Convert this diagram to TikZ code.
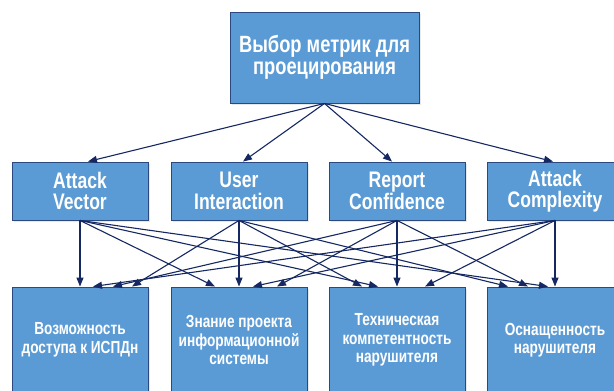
\documentclass[tikz,border=0pt]{standalone}
\usepackage{fontspec}
\newfontfamily\boxfont{Liberation Sans}[FakeStretch=0.78]
\usetikzlibrary{arrows.meta,shadows}
\definecolor{boxblue}{RGB}{91,155,213}
\definecolor{boxline}{RGB}{44,72,128}
\definecolor{arrline}{RGB}{22,40,98}

\begin{document}
\begin{tikzpicture}%
        [x=1pt,
        y=-1pt,
        box/.style={draw=boxline, line width=0.9pt, fill=boxblue, text=white,
                    align=center, inner sep=2pt,
                    drop shadow={shadow xshift=1.5pt, shadow yshift=-1.5pt, opacity=0.18}},
        topbox/.style={box, minimum width=189pt, minimum height=91pt,
                    font=\boxfont\bfseries\fontsize{23.5}{22.5}\selectfont},
        metric/.style={box, minimum width=136pt, minimum height=58pt,
                    font=\boxfont\bfseries\fontsize{22.5}{21.5}\selectfont},
        factor/.style={box, minimum width=136pt, minimum height=106pt,
                    font=\boxfont\bfseries\fontsize{17.5}{18.5}\selectfont},
        arr/.style={draw=arrline, line width=1.1pt, -{Triangle[length=9pt,width=7pt]}}]

    \clip (0,0) rectangle (614,391);
    \useasboundingbox (0,0) rectangle (614,391);

    %% Drawing the boxes
    \node[topbox] (choice) at (324.5,57.5) {Выбор метрик для\\проецирования};
    \node[metric] (av) at (80,191) {Attack\\Vector};
    \node[metric] (ui) at (239,191) {User\\Interaction};
    \node[metric] (rc) at (397,191) {Report\\Confidence};
    \node[metric] (ac) at (555,191) {Attack\\Complexity};
    \node[factor] (access) at (80,340) {Возможность\\доступа к ИСПДн};
    \node[factor] (design) at (239,340) {Знание проекта\\информационной\\системы};
    \node[factor] (skill) at (397,340) {Техническая\\компетентность\\нарушителя};
    \node[factor] (equip) at (555,340) {Оснащенность\\нарушителя};
    %%
    %% Choice to metrics
    %%
    \draw[arr] (choice.south) -- ([xshift=8pt]av.north);
    \draw[arr] (choice.south) -- ([xshift=4pt]ui.north);
    \draw[arr] (choice.south) -- ([xshift=-5pt]rc.north);
    \draw[arr] (choice.south) -- ([xshift=-2pt]ac.north);
    %%
    %% Metrics to access
    %%
    \draw[arr] (av.south) -- (access.north);
    \draw[arr] (ui.south) -- ([xshift=52pt]access.north);
    \draw[arr] (rc.south) -- ([xshift=33pt]access.north);
    \draw[arr] (ac.south) -- ([xshift=13pt]access.north);
    %%
    %% Metrics to design
    %%
    \draw[arr] (av.south) -- ([xshift=-24pt]design.north);
    \draw[arr] (ui.south) -- (design.north);
    \draw[arr] (ac.south) -- ([xshift=14pt]design.north);
    \draw[arr] (rc.south) -- ([xshift=38pt]design.north);
    %%
    %% Metrics to skill
    %%
    \draw[arr] (ui.south) -- ([xshift=-35pt]skill.north);
    \draw[arr] (av.south) -- ([xshift=-19pt]skill.north);
    \draw[arr] (rc.south) -- (skill.north);
    \draw[arr] (ac.south) -- ([xshift=28pt]skill.north);
    %%
    %% Metrics to equipment
    %%
    \draw[arr] (ui.south) -- ([xshift=-47pt]equip.north);
    \draw[arr] (rc.south) -- ([xshift=-27pt]equip.north);
    \draw[arr] (av.south) -- ([xshift=-7pt]equip.north);
    \draw[arr] (ac.south) -- (equip.north);
    %%
\end{tikzpicture}
\end{document}
